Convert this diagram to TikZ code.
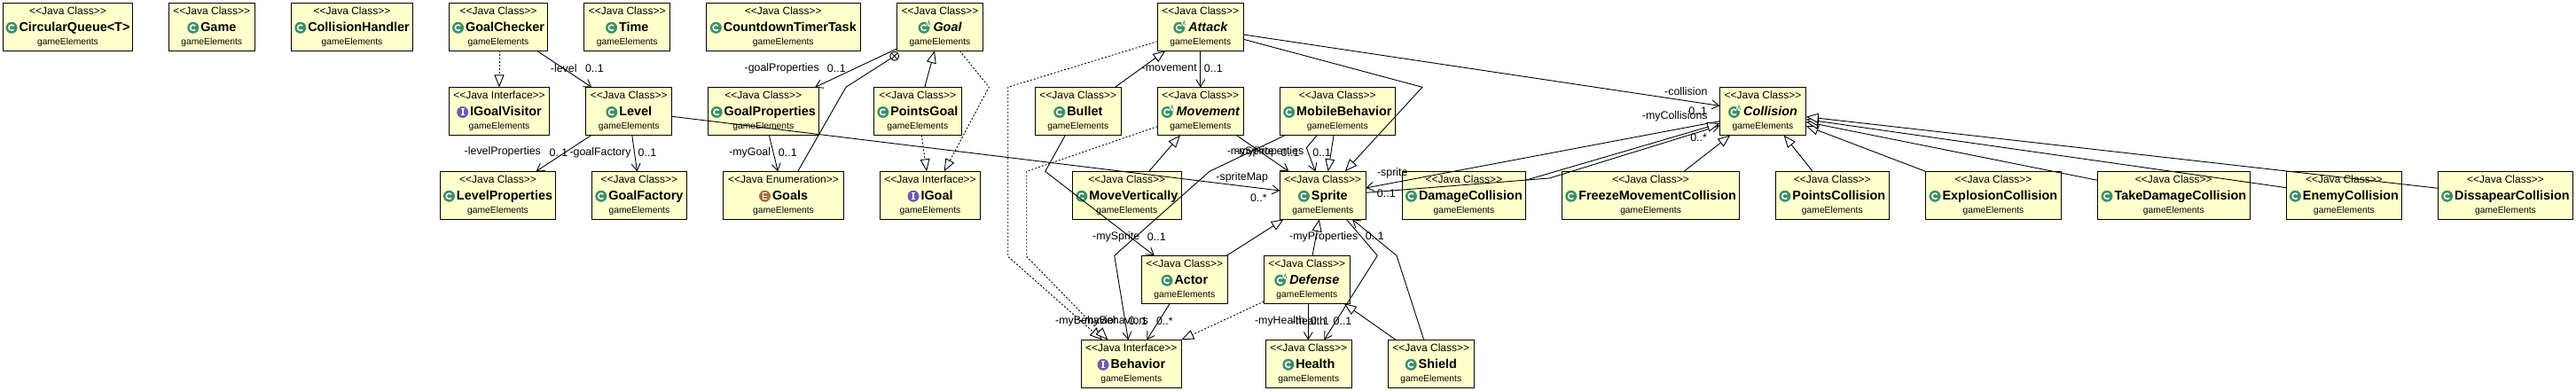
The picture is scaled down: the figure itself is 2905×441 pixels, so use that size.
\documentclass[tikz,border=0pt]{standalone}
\usepackage{fontspec}
\setmainfont{Liberation Sans}
\usepackage{tikz}
\usetikzlibrary{arrows.meta}

\definecolor{boxfill}{HTML}{FFFFCC}
\definecolor{javagreen}{HTML}{3E8F6B}
\definecolor{javapurple}{HTML}{6A5BB5}
\definecolor{javabrown}{HTML}{A8703F}

\newcommand{\iconC}{\tikz[baseline=-4.5pt,x=1pt,y=1pt]{\fill[javagreen] (0,0) circle (6.5); \draw[white,line width=1.5pt] (40:3.2) arc (40:320:3.2);}}
\newcommand{\iconA}{\tikz[baseline=-4.5pt,x=1pt,y=1pt]{\fill[javagreen] (0,0) circle (6.5); \draw[white,line width=1.5pt] (40:3.2) arc (40:320:3.2); \fill[white] (5.5,4.5) circle (3); \draw[javagreen,line width=.7pt] (3.8,2.2) -- (5.5,7.5) -- (7.2,2.2);}}
\newcommand{\iconI}{\tikz[baseline=-4.5pt,x=1pt,y=1pt]{\fill[javapurple] (0,0) circle (6.5); \draw[white,line width=1.6pt] (0,-3.5) -- (0,3.5); \draw[white,line width=1pt] (-2.2,3.5) -- (2.2,3.5) (-2.2,-3.5) -- (2.2,-3.5);}}
\newcommand{\iconE}{\tikz[baseline=-4.5pt,x=1pt,y=1pt]{\fill[javabrown] (0,0) circle (6.5); \draw[white,line width=1.2pt] (2.6,3.4) -- (-2.4,3.4) -- (-2.4,-3.4) -- (2.6,-3.4) (-2.4,0) -- (2,0);}}
\newcommand{\classtext}[3]{<{}<#1>{}>\\[2.4pt]{\fontsize{14.4}{17}\selectfont\bfseries #2\hspace{2pt}#3}\\[-2pt]{\fontsize{10.3}{17}\selectfont gameElements}}

\tikzset{
	umlbox/.style={draw=black,fill=boxfill,line width=1.1pt,outer sep=0pt,inner sep=0pt,minimum height=54pt,align=center,font=\fontsize{12}{17}\selectfont},
	rolelabel/.style={inner sep=0pt,font=\fontsize{12.4}{14}\selectfont},
	nesting/.style={circle,draw,line width=.9pt,fill=white,inner sep=0pt,minimum size=10pt,path picture={\draw[line width=.8pt] (path picture bounding box.north west) -- (path picture bounding box.south east) (path picture bounding box.north east) -- (path picture bounding box.south west);}},
	assoc/.style={line width=.9pt,-{Straight Barb[length=8pt,width=10pt]}},
	inherit/.style={line width=.9pt,-{Triangle[open,length=14pt,width=11pt,fill=white]}},
	realize/.style={line width=.9pt,dash pattern=on 2pt off 2pt,-{Triangle[open,length=14pt,width=11pt,fill=white,sep=0pt]}}
}

\begin{document}
\begin{tikzpicture}[x=1pt,y=-1pt]
	\useasboundingbox (0,0) rectangle (2905,441);

	% first row
	\node[umlbox,minimum width=146pt] (CircularQueue) at (76.5,30.3) {\classtext{Java Class}{\iconC}{CircularQueue<T>}};
	\node[umlbox,minimum width=97pt] (Game) at (238.8,30.3) {\classtext{Java Class}{\iconC}{Game}};
	\node[umlbox,minimum width=137pt] (CollisionHandler) at (397,30.3) {\classtext{Java Class}{\iconC}{CollisionHandler}};
	\node[umlbox,minimum width=111pt] (GoalChecker) at (562,30.3) {\classtext{Java Class}{\iconC}{GoalChecker}};
	\node[umlbox,minimum width=97pt] (Time) at (707.2,30.3) {\classtext{Java Class}{\iconC}{Time}};
	\node[umlbox,minimum width=174pt] (CountdownTimerTask) at (883.3,30.3) {\classtext{Java Class}{\iconC}{CountdownTimerTask}};
	\node[umlbox,minimum width=97.4pt] (Goal) at (1060,30.3) {\classtext{Java Class}{\iconA}{\itshape Goal}};
	\node[umlbox,minimum width=97pt] (Attack) at (1353.8,30.3) {\classtext{Java Class}{\iconA}{\itshape Attack}};

	% second row
	\node[umlbox,minimum width=113pt] (IGoalVisitor) at (563,125.5) {\classtext{Java Interface}{\iconI}{IGoalVisitor}};
	\node[umlbox,minimum width=97pt] (Level) at (709.2,125.5) {\classtext{Java Class}{\iconC}{Level}};
	\node[umlbox,minimum width=125pt] (GoalProperties) at (860.8,125.5) {\classtext{Java Class}{\iconC}{GoalProperties}};
	\node[umlbox,minimum width=99pt] (PointsGoal) at (1034.8,125.5) {\classtext{Java Class}{\iconC}{PointsGoal}};
	\node[umlbox,minimum width=97pt] (Bullet) at (1215.8,125.5) {\classtext{Java Class}{\iconC}{Bullet}};
	\node[umlbox,minimum width=97pt] (Movement) at (1353.8,125.5) {\classtext{Java Class}{\iconA}{\itshape Movement}};
	\node[umlbox,minimum width=130pt] (MobileBehavior) at (1508.3,125.5) {\classtext{Java Class}{\iconC}{MobileBehavior}};
	\node[umlbox,minimum width=97.4pt] (Collision) at (1988,125.5) {\classtext{Java Class}{\iconA}{\itshape Collision}};

	% third row
	\node[umlbox,minimum width=130pt] (LevelProperties) at (561.5,220.3) {\classtext{Java Class}{\iconC}{LevelProperties}};
	\node[umlbox,minimum width=107pt] (GoalFactory) at (720.9,220.3) {\classtext{Java Class}{\iconC}{GoalFactory}};
	\node[umlbox,minimum width=136.4pt] (Goals) at (883.5,220.3) {\classtext{Java Enumeration}{\iconE}{Goals}};
	\node[umlbox,minimum width=113.4pt] (IGoal) at (1049,220.3) {\classtext{Java Interface}{\iconI}{IGoal}};
	\node[umlbox,minimum width=123pt] (MoveVertically) at (1270.8,220.3) {\classtext{Java Class}{\iconC}{MoveVertically}};
	\node[umlbox,minimum width=97pt] (Sprite) at (1491.8,220.3) {\classtext{Java Class}{\iconC}{Sprite}};
	\node[umlbox,minimum width=139pt] (DamageCollision) at (1650.9,220.3) {\classtext{Java Class}{\iconC}{DamageCollision}};
	\node[umlbox,minimum width=200pt] (FreezeMovementCollision) at (1861.6,220.3) {\classtext{Java Class}{\iconC}{FreezeMovementCollision}};
	\node[umlbox,minimum width=128pt] (PointsCollision) at (2066.3,220.3) {\classtext{Java Class}{\iconC}{PointsCollision}};
	\node[umlbox,minimum width=153pt] (ExplosionCollision) at (2247.9,220.3) {\classtext{Java Class}{\iconC}{ExplosionCollision}};
	\node[umlbox,minimum width=172pt] (TakeDamageCollision) at (2451.3,220.3) {\classtext{Java Class}{\iconC}{TakeDamageCollision}};
	\node[umlbox,minimum width=130.3pt] (EnemyCollision) at (2643.4,220.3) {\classtext{Java Class}{\iconC}{EnemyCollision}};
	\node[umlbox,minimum width=151.6pt] (DissapearCollision) at (2825.4,220.3) {\classtext{Java Class}{\iconC}{DissapearCollision}};

	% last rows
	\node[umlbox,minimum width=97pt] (Actor) at (1335.8,315.3) {\classtext{Java Class}{\iconC}{Actor}};
	\node[umlbox,minimum width=97pt] (Defense) at (1473.8,315.3) {\classtext{Java Class}{\iconA}{\itshape Defense}};
	\node[umlbox,minimum width=113pt] (Behavior) at (1275.8,410.3) {\classtext{Java Interface}{\iconI}{Behavior}};
	\node[umlbox,minimum width=97pt] (Health) at (1475.8,410.3) {\classtext{Java Class}{\iconC}{Health}};
	\node[umlbox,minimum width=97pt] (Shield) at (1613.8,410.3) {\classtext{Java Class}{\iconC}{Shield}};

	% goals part
	\draw[realize] ([xshift=1pt]GoalChecker.south) -- (IGoalVisitor.north);
	\draw[assoc] ([xshift=43.6pt]GoalChecker.south) -- ([xshift=-41.9pt]Level.north);
	\draw[assoc] ([xshift=-42.4pt]Level.south) -- ([xshift=43.1pt]LevelProperties.north);
	\draw[assoc] ([xshift=3.6pt]Level.south) -- ([xshift=-2.5pt]GoalFactory.north);
	\draw[assoc] ([yshift=-5.8pt]Level.east) -- ([yshift=5.3pt]Sprite.west);
	\draw[assoc] ([yshift=2.3pt]Goal.south west) -- ([xshift=58.2pt]GoalProperties.north);
	\draw[assoc] ([xshift=6.5pt]GoalProperties.south) -- ([xshift=-6.2pt]Goals.north);
	\draw[inherit] ([xshift=7.9pt]PointsGoal.north) -- ([xshift=-6pt]Goal.south);
	\draw[realize] ([xshift=4.5pt]PointsGoal.south) -- ([xshift=-4pt]IGoal.north);
	\draw[realize] ([xshift=22.3pt]Goal.south) -- (1115.3,98.3) -- ([xshift=15.7pt]IGoal.north);
	\node[nesting] (goalNest) at (1008.7,63.3) {};
	\draw[line width=.9pt] ([xshift=16.2pt]Goals.north) -- (954,98.3) -- (goalNest);

	% attack, movement and sprite
	\draw[realize] ([yshift=-16.4pt]Attack.west) -- (1136.7,98.3) -- (1136.7,289.3) -- ([xshift=-32.8pt]Behavior.north);
	\draw[realize] ([yshift=-17.2pt]Movement.west) -- (1157.7,193.3) -- (1157.7,289.3) -- ([xshift=-26.5pt]Behavior.north);
	\draw[assoc] (Attack.south) -- (Movement.north);
	\draw[inherit] ([xshift=41.5pt]Bullet.north) -- ([xshift=-39.5pt]Attack.south);
	\draw[assoc] ([xshift=-14.5pt]Bullet.south) -- (1178.7,193.3) -- ([xshift=-34.1pt]Actor.north);
	\draw[assoc] ([xshift=40.5pt]Movement.south) -- ([xshift=-38.5pt]Sprite.north);
	\draw[inherit] ([xshift=24.9pt]MoveVertically.north) -- ([xshift=-22.8pt]Movement.south);
	\draw[assoc] ([xshift=-59pt]MobileBehavior.south) -- (1364,193.3) -- (1256.7,288.3) -- ([xshift=-3.5pt]Behavior.north);
	\draw[assoc] ([xshift=-16.5pt]Actor.south) -- ([xshift=17.5pt]Behavior.north);
	\draw[realize] ([yshift=-24.7pt]Defense.west) -- (Behavior.north east);
	\draw[assoc] ([xshift=-23pt]MobileBehavior.south) -- (1473.3,166.7) -- ([xshift=-8.5pt]Sprite.north);
	\draw[inherit] ([xshift=-4.3pt]MobileBehavior.south) -- ([xshift=5.9pt]Sprite.north);
	\draw[inherit] ([yshift=-14pt]Attack.east) -- (1604,98.3) -- ([xshift=24.9pt]Sprite.north);
	\draw[inherit] ([xshift=6.2pt]Defense.north) -- ([xshift=-4.1pt]Sprite.south);
	\draw[inherit] ([xshift=47.5pt]Actor.north) -- ([xshift=-44.1pt]Sprite.south);
	\draw[assoc] ([xshift=26.5pt]Sprite.south) -- (1553.3,288.3) -- ([xshift=17.5pt]Health.north);
	\draw[assoc] ([xshift=1.5pt]Defense.south) -- ([xshift=-.5pt]Health.north);
	\draw[inherit] ([xshift=-39.8pt]Shield.north) -- ([xshift=41.9pt]Defense.south);
	\draw[assoc] ([xshift=-8.1pt]Shield.north) -- (1575,288.3) -- ([xshift=33.2pt]Sprite.south);

	% collision part
	\draw[assoc] ([yshift=-8.7pt]Attack.east) -- ([yshift=6.2pt]Collision.west);
	\draw[assoc] ([yshift=-11.2pt]Collision.west) -- ([yshift=8.3pt]Sprite.east);
	\draw[assoc] ([yshift=3pt]Sprite.east) -- (1747.3,201) -- ([yshift=-16.2pt]Collision.west);
	\draw[inherit] ([yshift=17pt]DamageCollision.east) -- ([yshift=-13.8pt]Collision.west);
	\draw[inherit] ([xshift=37.4pt]FreezeMovementCollision.north) -- ([xshift=-36.7pt]Collision.south);
	\draw[inherit] ([xshift=-22.1pt]PointsCollision.north) -- ([xshift=23.6pt]Collision.south);
	\draw[inherit] (ExplosionCollision.north west) -- ([yshift=-16.5pt]Collision.east);
	\draw[inherit] ([yshift=17pt]TakeDamageCollision.west) -- ([yshift=-12pt]Collision.east);
	\draw[inherit] ([yshift=8.6pt]EnemyCollision.west) -- ([yshift=-9.2pt]Collision.east);
	\draw[inherit] ([yshift=8pt]DissapearCollision.west) -- ([yshift=-6.2pt]Collision.east);

	% role names and multiplicities
	\foreach \lblname/\x/\y/\lbltext in {
		lblLevel/635.7/77/-level, mulLevel/670.4/77.7/0..1,
		lblLevelProp/566.8/171.7/-levelProperties, mulLevelProp/630/172.7/0..1,
		lblFactory/677/172/-goalFactory, mulFactory/730/172.7/0..1,
		lblGoalProp/881.7/77/-goalProperties, mulGoalProp/943.3/77.7/0..1,
		lblMyGoal/845.7/172/-myGoal, mulMyGoal/888.3/172.7/0..1,
		lblMovement/1318.7/77/-movement, mulMovement/1368.3/77.7/0..1,
		lblActorSprite/1258.7/267.3/-mySprite, mulActorSprite/1304.3/267.7/0..1,
		lblSprite/1410.3/171.7/-mySprite, mulSprite/1455/172/0..1,
		lblProps/1431.7/171.7/-myProperties, mulProps/1490.7/172.7/0..1,
		lblSpriteMap/1400.7/200/-spriteMap, mulSpriteMap/1419.3/223.7/0..*,
		lblBack/1570.3/195.3/-sprite, mulBack/1563.3/218.7/0..1,
		lblCollision/1901.3/103/-collision, mulCollision/1914.7/125.7/0..1,
		lblMyColl/1888.8/131/-myCollisions, mulMyColl/1915.6/155.7/0..*,
		lblDefProps/1492.7/267.7/-myProperties, mulDefProps/1550.3/266.7/0..1,
		lblBehavior/1225/362/-myBehavior, mulBehavior/1283.3/362.7/0..1,
		lblBehaviors/1257/362/-myBehaviors, mulBehaviors/1313.3/362.7/0..*,
		lblMyHealth/1443.3/362/-myHealth, mulMyHealth/1488.3/362.7/0..1,
		lblHealth/1476/362/-health, mulHealth/1514/362.7/0..1}
		\node[rolelabel] (\lblname) at (\x,\y) {\lbltext};

\end{tikzpicture}
\end{document}
